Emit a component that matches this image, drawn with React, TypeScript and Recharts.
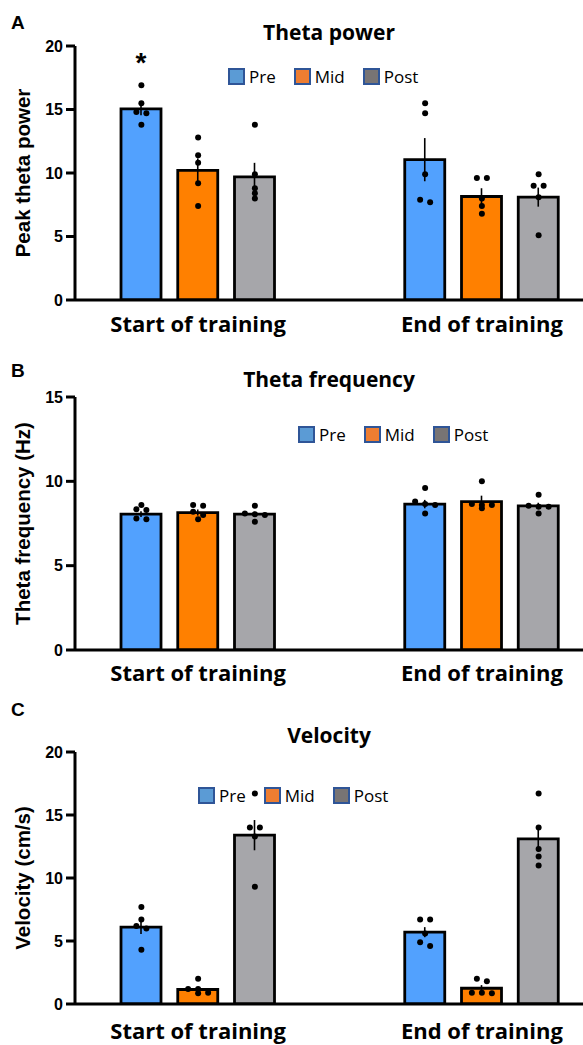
import React from 'react';
import {
  Bar,
  Cell,
  ComposedChart,
  ErrorBar,
  LabelList,
  Legend,
  Scatter,
  XAxis,
  YAxis,
} from 'recharts';

const CATEGORIES = ['Start of training', 'End of training'];
const SERIES = ['Pre', 'Mid', 'Post'];

// Theta power (means / SEM / individual animals), [start, end]
const powerPre = [15.05, 11.05];
const powerMid = [10.2, 8.15];
const powerPost = [9.7, 8.1];
const powerPreSem = [0.5, 1.7];
const powerMidSem = [0.95, 0.65];
const powerPostSem = [1.1, 0.75];
const powerPreDots = [[16.9, 15.5, 14.8, 14.7, 13.8], [15.5, 14.7, 9.9, 7.9, 7.7]];
const powerMidDots = [[12.8, 11.4, 10.8, 9.2, 7.4], [9.6, 9.6, 8.0, 7.4, 6.8]];
const powerPostDots = [[13.8, 9.9, 8.8, 8.4, 8.0], [9.9, 9.0, 9.0, 8.1, 5.1]];
const powerStars = [['*', ''], ['', ''], ['', '']];

// Theta frequency (Hz)
const freqPre = [8.05, 8.65];
const freqMid = [8.15, 8.8];
const freqPost = [8.05, 8.55];
const freqPreSem = [0.17, 0.25];
const freqMidSem = [0.18, 0.35];
const freqPostSem = [0.15, 0.18];
const freqPreDots = [[8.6, 8.35, 8.3, 7.8, 7.75], [9.6, 8.8, 8.65, 8.6, 8.1]];
const freqMidDots = [[8.6, 8.55, 8.2, 8.0, 7.75], [10.0, 8.65, 8.6, 8.6, 8.4]];
const freqPostDots = [[8.55, 8.1, 8.05, 8.0, 7.6], [9.2, 8.55, 8.5, 8.5, 8.1]];

// Velocity (cm/s)
const velPre = [6.1, 5.7];
const velMid = [1.15, 1.25];
const velPost = [13.4, 13.1];
const velPreSem = [0.55, 0.4];
const velMidSem = [0.2, 0.25];
const velPostSem = [1.2, 1.0];
const velPreDots = [[7.7, 6.7, 6.2, 6.0, 4.3], [6.7, 6.7, 5.6, 4.9, 4.6]];
const velMidDots = [[2.0, 1.2, 1.2, 0.9, 0.85], [2.0, 1.8, 0.9, 0.9, 0.85]];
const velPostDots = [[16.7, 14.0, 14.0, 13.3, 9.3], [16.7, 14.0, 12.3, 11.7, 11.0]];

const BAR_COLORS: Record<string, string> = { Pre: '#52A1FE', Mid: '#FF8000', Post: '#A6A6AA' };
const LEGEND_COLORS: Record<string, string> = { Pre: '#5B9BD5', Mid: '#ED7D31', Post: '#787474' };

const buildRows = (means: number[][], sems: number[][], dots: number[][][], stars?: string[][]) => {
  const rows: any[] = [];
  CATEGORIES.forEach((cat, c) => {
    if (c > 0) {
      rows.push({ key: `gap${c}a` });
      rows.push({ key: `gap${c}b` });
    }
    SERIES.forEach((s, si) => {
      const d = dots[si][c];
      const row: any = {
        key: `${cat}|${s}`,
        series: s,
        value: means[si][c],
        sem: sems[si][c],
        dots: d,
        sig: stars ? stars[si][c] : '',
      };
      d.forEach((v, i) => (row[`d${i}`] = v));
      rows.push(row);
    });
  });
  return rows;
};

const powerRows = buildRows(
  [powerPre, powerMid, powerPost],
  [powerPreSem, powerMidSem, powerPostSem],
  [powerPreDots, powerMidDots, powerPostDots],
  powerStars,
);
const freqRows = buildRows(
  [freqPre, freqMid, freqPost],
  [freqPreSem, freqMidSem, freqPostSem],
  [freqPreDots, freqMidDots, freqPostDots],
);
const velRows = buildRows(
  [velPre, velMid, velPost],
  [velPreSem, velMidSem, velPostSem],
  [velPreDots, velMidDots, velPostDots],
);

const W = 583;
const PANELS = [
  { letter: 'A', title: 'Theta power', yLabel: 'Peak theta power', rows: powerRows, top: 0, height: 340, marginTop: 46, xAxisH: 40, tickMargin: 10, yMax: 20, ticks: [0, 5, 10, 15, 20], legendLeft: 228, legendTop: 68, titleY: 40, letterY: 28.5 },
  { letter: 'B', title: 'Theta frequency', yLabel: 'Theta frequency (Hz)', rows: freqRows, top: 340, height: 350, marginTop: 57, xAxisH: 40, tickMargin: 9, yMax: 15, ticks: [0, 5, 10, 15], legendLeft: 298, legendTop: 86, titleY: 47, letterY: 37 },
  { letter: 'C', title: 'Velocity', yLabel: 'Velocity (cm/s)', rows: velRows, top: 680, height: 365, marginTop: 72, xAxisH: 41, tickMargin: 13, yMax: 20, ticks: [0, 5, 10, 15, 20], legendLeft: 198, legendTop: 107, titleY: 63, letterY: 36 },
];

// spread dots that sit at nearly the same height side by side
const swarm = (vals: number[], ppu: number) => {
  const order = vals.map((v, i) => i).sort((a, b) => vals[b] - vals[a]);
  const offs = new Array(vals.length).fill(0);
  const clusters: number[][] = [];
  order.forEach((idx, k) => {
    const cur = clusters[clusters.length - 1];
    if (k > 0 && (vals[cur[0]] - vals[idx]) * ppu < 4) cur.push(idx);
    else clusters.push([idx]);
  });
  clusters.forEach((cl) => cl.forEach((idx, k) => (offs[idx] = (k - (cl.length - 1) / 2) * 10)));
  return offs;
};

const makeDot = (i: number, ppu: number) => (props: any) => {
  const { cx, cy, payload } = props;
  if (!payload || !payload.dots || !Number.isFinite(cx) || !Number.isFinite(cy)) return <g />;
  const offs = swarm(payload.dots, ppu);
  return <circle cx={cx + offs[i]} cy={cy} r={3} fill="#000" />;
};

const renderStar = (props: any) => {
  const { x, y, width, value } = props;
  if (!value) return null;
  return (
    <text x={x + width / 2} y={y - 37} textAnchor="middle" fontSize={28} fontWeight={700} fontFamily="Liberation Sans" fill="#000">
      {value}
    </text>
  );
};

const LegendBoxes = () => (
  <div style={{ display: 'flex', alignItems: 'center', fontFamily: 'Open Sans', fontSize: 17, color: '#000', lineHeight: '17px' }}>
    {SERIES.map((s) => (
      <div key={s} style={{ display: 'flex', alignItems: 'center', marginRight: 18 }}>
        <div style={{ width: 17, height: 17, boxSizing: 'border-box', background: LEGEND_COLORS[s], border: '2px solid #2F5597', marginRight: 4 }} />
        <span>{s}</span>
      </div>
    ))}
  </div>
);

const Panel = ({ p }: { p: (typeof PANELS)[number] }) => {
  const plotH = p.height - p.marginTop - p.xAxisH;
  const ppu = plotH / p.yMax;
  const midY = p.marginTop + plotH / 2;
  return (
    <div style={{ position: 'absolute', left: 0, top: p.top, width: W, height: p.height }}>
      <ComposedChart width={W} height={p.height} data={p.rows} margin={{ top: p.marginTop, right: 0, bottom: 0, left: 0 }}>
        <XAxis
          dataKey="key"
          type="category"
          interval={0}
          height={p.xAxisH}
          padding={{ left: 38, right: 16 }}
          tickLine={false}
          tickMargin={p.tickMargin}
          axisLine={{ stroke: '#000', strokeWidth: 3 }}
          tick={{ fontSize: 22, fontWeight: 700, fill: '#000', fontFamily: 'Open Sans' }}
          tickFormatter={(v: string) => (v.endsWith('|Mid') ? v.split('|')[0] : '')}
        />
        <YAxis
          type="number"
          domain={[0, p.yMax]}
          ticks={p.ticks}
          allowDataOverflow
          width={75}
          tickSize={9}
          tickMargin={3}
          axisLine={{ stroke: '#000', strokeWidth: 3 }}
          tickLine={{ stroke: '#000', strokeWidth: 3 }}
          tick={{ fontSize: 16, fontWeight: 700, fill: '#000', fontFamily: 'Liberation Sans' }}
          label={() => (
            <text
              x={30}
              y={midY}
              transform={`rotate(-90 30 ${midY})`}
              textAnchor="middle"
              fontSize={20.5}
              fontWeight={700}
              fontFamily="Liberation Sans"
              fill="#000"
            >
              {p.yLabel}
            </text>
          )}
        />
        <Legend
          verticalAlign="middle"
          align="center"
          layout="horizontal"
          wrapperStyle={{ position: 'absolute', left: p.legendLeft, top: p.legendTop, width: 'auto', height: 'auto' }}
          content={() => <LegendBoxes />}
        />
        <Bar dataKey="value" barSize={40} stroke="#000" strokeWidth={2.8} isAnimationActive={false}>
          {p.rows.map((r: any) => (
            <Cell key={r.key} fill={r.series ? BAR_COLORS[r.series] : 'none'} />
          ))}
          <ErrorBar dataKey="sem" width={0} stroke="#000" strokeWidth={1.6} direction="y" />
          <LabelList dataKey="sig" content={renderStar} />
        </Bar>
        {[0, 1, 2, 3, 4].map((i) => (
          <Scatter key={i} dataKey={`d${i}`} shape={makeDot(i, ppu)} isAnimationActive={false} />
        ))}
      </ComposedChart>
    </div>
  );
};

export default function App() {
  return (
    <div style={{ position: 'absolute', left: 0, top: 0, width: W, height: 1045, background: '#fff' }}>
      {PANELS.map((p) => (
        <Panel key={p.letter} p={p} />
      ))}
      <svg width={W} height={1045} style={{ position: 'absolute', left: 0, top: 0, pointerEvents: 'none' }}>
        {PANELS.map((p) => (
          <g key={p.letter}>
            <text x={11} y={p.top + p.letterY} fontSize={19} fontWeight={700} fontFamily="Liberation Sans" fill="#000">
              {p.letter}
            </text>
            <text x={329} y={p.top + p.titleY} textAnchor="middle" fontSize={21} fontWeight={700} fontFamily="Open Sans" fill="#000">
              {p.title}
            </text>
          </g>
        ))}
      </svg>
    </div>
  );
}
